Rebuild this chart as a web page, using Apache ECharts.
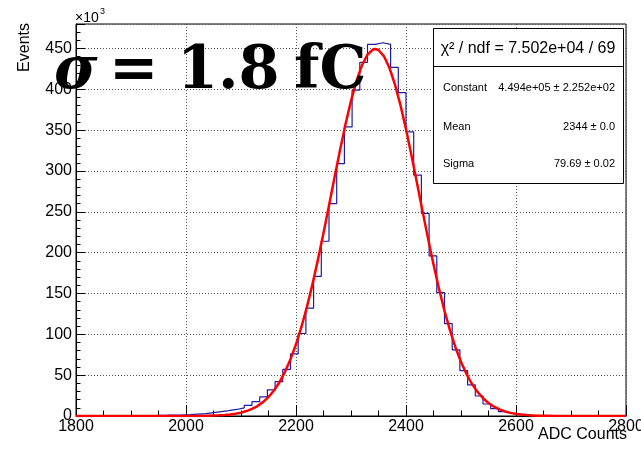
<!DOCTYPE html>
<html>
<head>
<meta charset="utf-8">
<title>ADC Counts</title>
<script src="https://cdn.jsdelivr.net/npm/echarts/dist/echarts.min.js"></script>
<style>
  html, body { margin: 0; padding: 0; background: #fff; }
  #main { width: 641px; height: 454px; }
</style>
</head>
<body>
<div id="main"></div>
<script>
// histogram, 14 ADC wide bins, values in 10^3 events
const binStart = 1910
const binWidth = 14
const counts = [
  0, 0, 0.9, 1.0, 1.2, 1.4, 1.8, 2.4, 2.9, 4.2,
  5.4, 6.5, 8.0, 10.0, 13.0, 17.5, 23.5, 32, 42, 57,
  76, 101, 132, 171, 214, 260, 309, 354, 399, 433,
  455, 457, 455, 427, 396, 348, 295, 248, 196, 151,
  113, 81, 55.6, 38, 24.5, 14.7, 9.0, 5.3, 2.9, 1.2,
  0.6, 0.3, 0.1, 0
]

// red gaus fit line, read along x
const fitX = [
  1800, 1900, 1980, 2000, 2010, 2020, 2030, 2040, 2050, 2060, 2070, 2080, 2090,
  2100, 2110, 2120, 2130, 2140, 2150, 2160, 2170, 2180, 2190,
  2200, 2210, 2220, 2230, 2240, 2250, 2260, 2270, 2280, 2290,
  2300, 2310, 2320, 2330, 2340, 2344, 2350, 2360, 2370, 2380, 2390,
  2400, 2410, 2420, 2430, 2440, 2450, 2460, 2470, 2480, 2490,
  2500, 2510, 2520, 2530, 2540, 2550, 2560, 2570, 2580, 2590,
  2600, 2610, 2620, 2630, 2640, 2650, 2660, 2670, 2680, 2690, 2700, 2800
]
const fitY = [
  0, 0, 0, 0.04, 0.07, 0.12, 0.19, 0.31, 0.5, 0.78, 1.22, 1.86, 2.8,
  4.14, 6.03, 8.65, 12.2, 17.0, 23.2, 31.3, 41.4, 54.1, 69.4,
  87.8, 109.3, 133.9, 161.5, 191.8, 224.1, 257.9, 292.0, 325.5, 357.2,
  385.9, 410.3, 429.5, 442.5, 448.8, 449.4, 448.1, 440.4, 426.1, 405.8, 380.4,
  351.1, 318.9, 285.2, 251.0, 217.5, 185.5, 155.8, 128.7, 104.8, 83.9,
  66.1, 51.3, 39.2, 29.5, 21.8, 15.9, 11.4, 8.06, 5.6, 3.83,
  2.58, 1.71, 1.12, 0.72, 0.45, 0.28, 0.17, 0.1, 0.06, 0.03, 0, 0
]

// fit results box
const statTitle = 'χ² / ndf = 7.502e+04 / 69'
const statNames = ['Constant', 'Mean', 'Sigma']
const statValues = ['4.494e+05 ± 2.252e+02', '2344 ± 0.0', '79.69 ± 0.02']

const histData = counts.map((c, i) => [binStart + i * binWidth, c])
histData.push([binStart + counts.length * binWidth, counts[counts.length - 1]])
const fitData = fitX.map((x, i) => [x, fitY[i]])

const font = 'Liberation Sans'
const big = 'bold 59px "DejaVu Serif"'

const statRows = []
statNames.forEach((name, i) => {
  const y = [88, 127, 164][i]
  statRows.push({ type: 'text', x: 443, y: y, z: 101,
    style: { text: name, font: '11px "Liberation Sans"', fill: '#000', align: 'left', verticalAlign: 'middle' } })
  statRows.push({ type: 'text', x: 615, y: y, z: 101,
    style: { text: statValues[i], font: '11px "Liberation Sans"', fill: '#000', align: 'right', verticalAlign: 'middle' } })
})

const chart = echarts.init(document.getElementById('main'))
const option = {
  animation: false,
  backgroundColor: '#fff',
  grid: {
    left: 76, right: 15, top: 24, bottom: 38,
    show: true, borderColor: '#000', borderWidth: 1,
    containLabel: false, outerBoundsMode: 'none'
  },
  xAxis: {
    type: 'value', min: 1800, max: 2800, interval: 200,
    axisLine: { onZero: false, lineStyle: { color: '#000', width: 1 } },
    axisTick: { inside: true, length: 11, lineStyle: { color: '#000' } },
    minorTick: { show: true, splitNumber: 4, length: 5.5, lineStyle: { color: '#000' } },
    axisLabel: { margin: 3, fontSize: 16, fontFamily: font, color: '#000', formatter: v => String(v) },
    splitLine: { show: true, lineStyle: { color: '#555', type: [1, 2] } }
  },
  yAxis: {
    type: 'value', min: 0, max: 480, interval: 50,
    axisLine: { show: true, onZero: false, lineStyle: { color: '#000', width: 1 } },
    axisTick: { show: true, inside: true, length: 9, lineStyle: { color: '#000' } },
    minorTick: { show: true, splitNumber: 5, length: 4.5, lineStyle: { color: '#000' } },
    axisLabel: { margin: 4, fontSize: 16, fontFamily: font, color: '#000', showMaxLabel: false, formatter: v => String(v) },
    splitLine: { show: true, lineStyle: { color: '#555', type: [1, 2] } }
  },
  series: [
    {
      type: 'line', data: histData, step: 'end', symbol: 'none', z: 2,
      lineStyle: { color: '#1c1ca6', width: 1.2 }
    },
    {
      type: 'line', data: fitData, symbol: 'none', z: 3,
      lineStyle: { color: '#f00', width: 2.5, join: 'round' }
    }
  ],
  graphic: [
    // axis titles
    { type: 'text', x: 627, y: 435, style: { text: 'ADC Counts', font: '16px "Liberation Sans"', fill: '#000', align: 'right', verticalAlign: 'middle' } },
    { type: 'text', x: 25, y: 23, rotation: Math.PI / 2, style: { text: 'Events', font: '16px "Liberation Sans"', fill: '#000', align: 'right', verticalAlign: 'middle' } },
    { type: 'text', x: 75, y: 18, style: { text: '×10', font: '14px "Liberation Sans"', fill: '#000', align: 'left', verticalAlign: 'middle' } },
    { type: 'text', x: 100, y: 12, style: { text: '3', font: '9px "Liberation Sans"', fill: '#000', align: 'left', verticalAlign: 'middle' } },
    // sigma label
    { type: 'text', x: 54, y: 73, z: 100, style: { text: 'σ', font: 'italic ' + big, fill: '#000', align: 'left', verticalAlign: 'middle' } },
    { type: 'text', x: 109, y: 73, z: 100, style: { text: '=', font: big, fill: '#000', align: 'left', verticalAlign: 'middle' } },
    { type: 'text', x: 177, y: 73, z: 100, style: { text: '1.8', font: big, fill: '#000', align: 'left', verticalAlign: 'middle' } },
    { type: 'text', x: 294, y: 73, z: 100, style: { text: 'fC', font: big, fill: '#000', align: 'left', verticalAlign: 'middle' } },
    // stats box
    { type: 'rect', z: 100, shape: { x: 433.5, y: 28.5, width: 190, height: 155 }, style: { fill: '#fff', stroke: '#000', lineWidth: 1 } },
    { type: 'line', z: 101, shape: { x1: 433.5, y1: 66.5, x2: 623.5, y2: 66.5 }, style: { stroke: '#000', lineWidth: 1 } },
    { type: 'text', x: 528, y: 48.5, z: 101, style: { text: statTitle, font: '16px "Liberation Sans"', fill: '#000', align: 'center', verticalAlign: 'middle' } }
  ].concat(statRows)
}
chart.setOption(option)
</script>
</body>
</html>
